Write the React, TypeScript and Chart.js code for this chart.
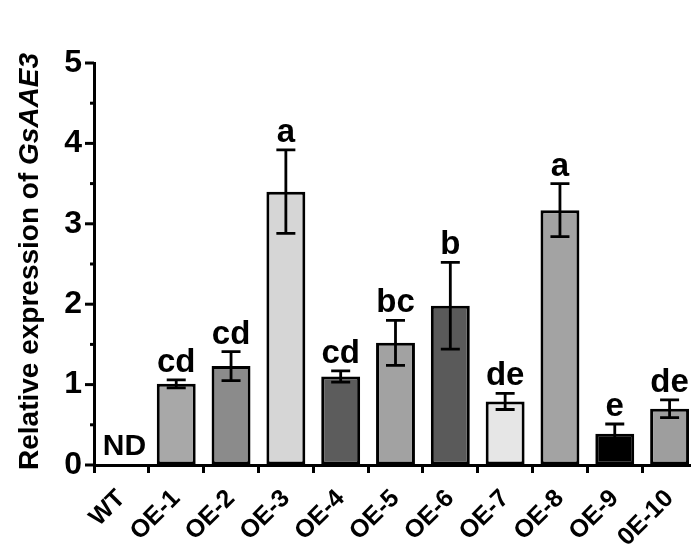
import React, { useEffect, useRef } from "react";
import { Chart, registerables } from "chart.js";

Chart.register(...registerables);

const categories = ["WT", "OE-1", "OE-2", "OE-3", "OE-4", "OE-5", "OE-6", "OE-7", "OE-8", "OE-9", "0E-10"];
const values: (number | null)[] = [null, 1.01, 1.23, 3.4, 1.1, 1.52, 1.98, 0.79, 3.17, 0.39, 0.7];
const errors: number[] = [0, 0.05, 0.18, 0.52, 0.07, 0.28, 0.54, 0.1, 0.33, 0.12, 0.11];
const letters: string[] = ["ND", "cd", "cd", "a", "cd", "bc", "b", "de", "a", "e", "de"];
const barColors: string[] = [
  "#ffffff", "#a8a8a8", "#8b8b8b", "#d6d6d6", "#5c5c5c", "#a2a2a2",
  "#5a5a5a", "#e6e6e6", "#a3a3a3", "#000000", "#9e9e9e",
];
const yTickValues = [0, 1, 2, 3, 4, 5];
const yTitlePlain = "Relative expression of ";
const yTitleItalic = "GsAAE3";

const FONT = "'Liberation Sans', Arial, sans-serif";

const annotatePlugin = {
  id: "annotate",
  afterDatasetsDraw(chart: any) {
    const ctx = chart.ctx;
    const ys = chart.scales.y;
    const xs = chart.scales.x;
    ctx.save();
    ctx.strokeStyle = "#000";
    ctx.lineWidth = 2.8;
    ctx.fillStyle = "#000";
    ctx.textAlign = "center";
    ctx.textBaseline = "alphabetic";
    for (let i = 0; i < categories.length; i++) {
      const v = values[i];
      const x = xs.getPixelForValue(i);
      if (v === null) {
        ctx.font = `bold 30px ${FONT}`;
        ctx.fillText(letters[i], x + 3, ys.getPixelForValue(0) - 10);
        continue;
      }
      const e = errors[i];
      const yt = ys.getPixelForValue(v + e);
      const yb = ys.getPixelForValue(v - e);
      ctx.beginPath();
      ctx.moveTo(x, yt);
      ctx.lineTo(x, yb);
      ctx.moveTo(x - 9.5, yt);
      ctx.lineTo(x + 9.5, yt);
      ctx.moveTo(x - 9.5, yb);
      ctx.lineTo(x + 9.5, yb);
      ctx.stroke();
      ctx.font = `bold 33px ${FONT}`;
      ctx.fillText(letters[i], x, yt - 8);
    }
    ctx.restore();
  },
  afterDraw(chart: any) {
    const ctx = chart.ctx;
    const ys = chart.scales.y;
    const left = chart.chartArea.left;
    ctx.save();
    ctx.strokeStyle = "#000";
    ctx.lineWidth = 3;
    for (let k = 0; k <= 10; k++) {
      const v = k * 0.5;
      const y = ys.getPixelForValue(v);
      const len = k % 2 === 0 ? 9 : 4;
      ctx.beginPath();
      ctx.moveTo(left - len, y);
      ctx.lineTo(left, y);
      ctx.stroke();
    }
    // y title
    ctx.translate(38, 470);
    ctx.rotate(-Math.PI / 2);
    ctx.fillStyle = "#000";
    ctx.textAlign = "left";
    ctx.textBaseline = "alphabetic";
    ctx.font = `bold 28px ${FONT}`;
    ctx.fillText(yTitlePlain, 0, 0);
    const w = ctx.measureText(yTitlePlain).width;
    ctx.font = `italic bold 28px ${FONT}`;
    ctx.fillText(yTitleItalic, w, 0);
    ctx.restore();
  },
};

export default function App() {
  const ref = useRef<HTMLCanvasElement | null>(null);
  useEffect(() => {
    if (!ref.current) return;
    const chart = new Chart(ref.current, {
      type: "bar",
      data: {
        labels: categories,
        datasets: [
          {
            data: values as any,
            backgroundColor: barColors,
            borderColor: "#000",
            borderWidth: 3,
            borderSkipped: false,
            barPercentage: 0.71,
            categoryPercentage: 1,
          },
        ],
      },
      options: {
        animation: false,
        responsive: false,
        maintainAspectRatio: false,
        layout: { padding: { top: 63, left: 0, right: 23, bottom: 0 } },
        plugins: { legend: { display: false }, tooltip: { enabled: false } },
        scales: {
          x: {
            offset: true,
            grid: {
              drawOnChartArea: false,
              drawTicks: true,
              tickLength: 8,
              tickColor: "#000",
              tickWidth: 3,
            },
            border: { color: "#000", width: 3 },
            ticks: {
              color: "#000",
              font: { family: FONT, size: 25, weight: "bold" },
              maxRotation: 45,
              minRotation: 45,
              autoSkip: false,
              padding: 11,
            },
            afterFit(scale: any) {
              scale.height = 79;
            },
          },
          y: {
            min: 0,
            max: 5,
            afterBuildTicks(scale: any) {
              scale.ticks = yTickValues.map((v) => ({ value: v }));
            },
            grid: {
              drawOnChartArea: false,
              drawTicks: true,
              tickLength: 9,
              tickColor: "rgba(0,0,0,0)",
            },
            border: { color: "#000", width: 3 },
            ticks: {
              color: "#000",
              font: { family: FONT, size: 32, weight: "bold" },
              padding: 3,
              callback: (v: any) => String(v),
            },
            afterFit(scale: any) {
              scale.width = 94;
            },
          },
        },
      },
      plugins: [annotatePlugin],
    });
    return () => chart.destroy();
  }, []);
  return (
    <div style={{ position: "absolute", left: 0, top: 0, width: 691, height: 544, overflow: "hidden", background: "#fff" }}>
      <canvas ref={ref} width={720} height={544} style={{ display: "block", width: 720, height: 544 }} />
    </div>
  );
}
